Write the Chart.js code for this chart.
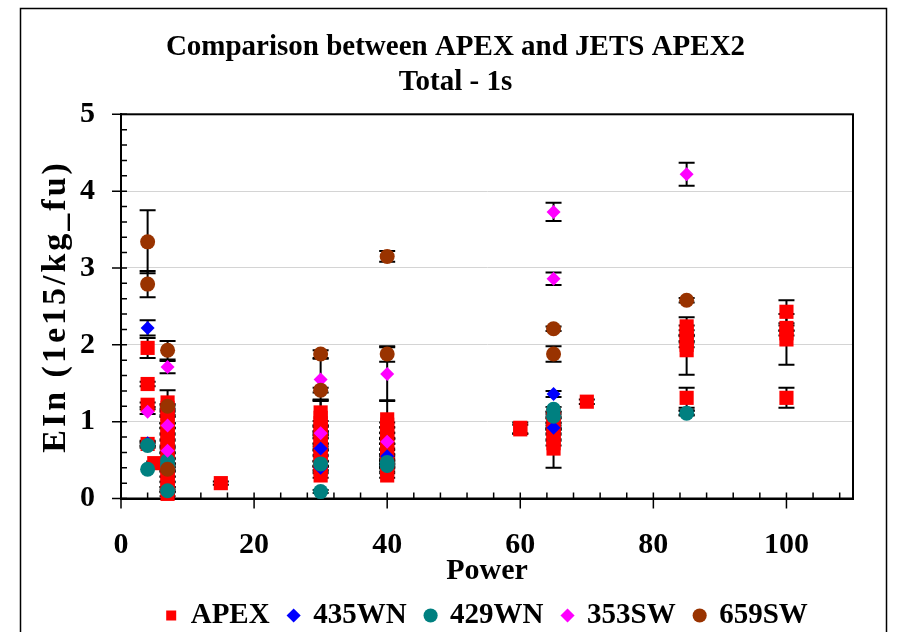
<!DOCTYPE html>
<html>
<head>
<meta charset="utf-8">
<title>Comparison between APEX and JETS APEX2</title>
<script src="https://cdn.jsdelivr.net/npm/chart.js@4.4.0/dist/chart.umd.min.js"></script>
<style>
  html, body { margin: 0; padding: 0; background: #fff; overflow: hidden; }
  #wrap { width: 907px; height: 640px; }
</style>
</head>
<body>
<div id="wrap"><canvas id="chart"></canvas></div>
<script>
// values (x = power, y = EIn, e = +/- error)
const apexPower = [4, 4, 4, 4, 5,
  7, 7, 7, 7, 7, 7, 7, 7, 7, 7, 7, 7, 7, 7, 7, 7, 7,
  15,
  30, 30, 30, 30, 30, 30, 30, 30, 30, 30, 30, 30,
  40, 40, 40, 40, 40, 40, 40, 40, 40, 40, 40,
  60, 60,
  65, 65, 65, 65, 65, 65, 65,
  70,
  85, 85, 85, 85, 85, 85,
  100, 100, 100, 100, 100];
const apexEIn = [1.96, 1.49, 1.22, 0.71, 0.46,
  1.25, 1.18, 1.10, 1.02, 0.95, 0.88, 0.80, 0.72, 0.64, 0.56, 0.48, 0.40, 0.32, 0.25, 0.18, 0.12, 0.06,
  0.20,
  1.12, 1.05, 0.98, 0.90, 0.82, 0.75, 0.68, 0.60, 0.52, 0.45, 0.38, 0.30,
  1.03, 0.96, 0.89, 0.82, 0.75, 0.68, 0.60, 0.52, 0.45, 0.38, 0.30,
  0.92, 0.90,
  1.10, 1.02, 0.95, 0.88, 0.80, 0.72, 0.65,
  1.26,
  2.24, 2.16, 2.08, 2.00, 1.93, 1.31,
  2.43, 2.22, 2.15, 2.07, 1.31];
const apexErr = [0.13, 0.03, 0.03, 0.03, 0.02,
  0.16, 0.03, 0.03, 0.04, 0.03, 0.03, 0.03, 0.03, 0.03, 0.03, 0.03, 0.03, 0.03, 0.03, 0.03, 0.03, 0.03,
  0.02,
  0.17, 0.22, 0.03, 0.03, 0.03, 0.03, 0.03, 0.03, 0.03, 0.03, 0.03, 0.03,
  0.25, 0.03, 0.03, 0.03, 0.03, 0.03, 0.03, 0.03, 0.03, 0.03, 0.03,
  0.07, 0.06,
  0.03, 0.03, 0.03, 0.03, 0.03, 0.03, 0.25,
  0.03,
  0.12, 0.03, 0.03, 0.03, 0.32, 0.13,
  0.15, 0.03, 0.03, 0.33, 0.13];

const wn435Power = [4, 4, 30, 30, 40, 40, 65, 65, 85];
const wn435EIn = [2.22, 0.72, 0.65, 0.40, 0.55, 0.42, 1.36, 0.92, 1.12];
const wn435Err = [0.10, 0.03, 0.03, 0.03, 0.03, 0.03, 0.04, 0.03, 0.03];

const wn429Power = [4, 4, 7, 7, 7, 30, 30, 40, 40, 65, 65, 85];
const wn429EIn = [0.69, 0.38, 0.49, 0.43, 0.10, 0.45, 0.09, 0.47, 0.43, 1.16, 1.07, 1.11];
const wn429Err = [0.03, 0, 0.03, 0.03, 0.02, 0.03, 0.02, 0.03, 0.03, 0.03, 0.03, 0.03];

const sw353Power = [4, 7, 7, 7, 30, 30, 40, 40, 65, 65, 85];
const sw353EIn = [1.13, 1.71, 0.95, 0.62, 1.55, 0.85, 1.62, 0.74, 3.73, 2.86, 4.22];
const sw353Err = [0.03, 0.08, 0.03, 0.03, 0.27, 0.03, 0.35, 0.03, 0.12, 0.08, 0.15];

const sw659Power = [4, 4, 7, 7, 7, 30, 30, 40, 40, 65, 65, 85];
const sw659EIn = [3.34, 2.79, 1.93, 1.20, 0.38, 1.88, 1.41, 3.15, 1.88, 2.21, 1.88, 2.58];
const sw659Err = [0.41, 0.17, 0.12, 0.03, 0.03, 0.05, 0.03, 0.07, 0.10, 0.03, 0.10, 0.03];

const titleLines = ['Comparison between APEX and JETS APEX2', 'Total - 1s'];
const xTitle = 'Power';
const yTitle = 'EIn (1e15/kg_fu)';

const pts = (xs, ys, es) => xs.map((x, i) => ({ x: x, y: ys[i], e: es[i] }));

const fontFamily = "'Liberation Serif', 'Times New Roman', serif";
Chart.defaults.font.family = fontFamily;
Chart.defaults.font.weight = 'bold';
Chart.defaults.color = '#000';

// outer frame, plot box and the tick marks (minor ticks inside, major ticks crossing)
const framePlugin = {
  id: 'frame',
  beforeDraw(chart) {
    const ctx = chart.ctx;
    ctx.save();
    ctx.fillStyle = '#fff';
    ctx.fillRect(0, 0, chart.width, chart.height);
    ctx.strokeStyle = '#000';
    ctx.lineWidth = 1.5;
    ctx.strokeRect(20.5, 8.5, 866, chart.height);
    ctx.restore();
  },
  beforeDatasetsDraw(chart) {
    const { ctx, chartArea: a, scales: { x, y } } = chart;
    ctx.save();
    ctx.strokeStyle = '#000';
    ctx.lineWidth = 2;
    ctx.strokeRect(a.left, a.top, a.right - a.left, a.bottom - a.top);
    ctx.lineWidth = 1.5;
    ctx.beginPath();
    for (let i = 0; i <= 27; i++) {
      const px = x.getPixelForValue(i * 4);
      const major = (i * 4) % 20 === 0;
      ctx.moveTo(px, a.bottom - 6);
      ctx.lineTo(px, a.bottom + (major ? 10 : 0));
    }
    for (let i = 0; i <= 25; i++) {
      const py = y.getPixelForValue(i / 5);
      const major = i % 5 === 0;
      ctx.moveTo(a.left + 6, py);
      ctx.lineTo(a.left - (major ? 9 : 0), py);
    }
    ctx.stroke();

    // y axis title, drawn here because the original is letter-spaced
    ctx.fillStyle = '#000';
    ctx.font = 'bold 34px ' + fontFamily;
    ctx.letterSpacing = '3px';
    ctx.textAlign = 'center';
    ctx.textBaseline = 'middle';
    ctx.translate(56, (a.top + a.bottom) / 2);
    ctx.rotate(-Math.PI / 2);
    ctx.fillText(yTitle, 0, 0);
    ctx.restore();
  }
};

// vertical error bars with caps, drawn under the markers
const errorBarPlugin = {
  id: 'errorBars',
  beforeDatasetsDraw(chart) {
    const { ctx, scales: { x, y } } = chart;
    ctx.save();
    ctx.strokeStyle = '#000';
    ctx.lineWidth = 2;
    chart.data.datasets.forEach(ds => {
      ds.data.forEach(p => {
        if (!p.e) return;
        const px = x.getPixelForValue(p.x);
        const top = y.getPixelForValue(p.y + p.e);
        const bot = y.getPixelForValue(p.y - p.e);
        ctx.beginPath();
        ctx.moveTo(px, top);
        ctx.lineTo(px, bot);
        ctx.moveTo(px - 8, top);
        ctx.lineTo(px + 8, top);
        ctx.moveTo(px - 8, bot);
        ctx.lineTo(px + 8, bot);
        ctx.stroke();
      });
    });
    ctx.restore();
  }
};

function series(label, data, style, radius, color, order) {
  return {
    label: label,
    data: data,
    pointStyle: style,
    pointRadius: radius,
    backgroundColor: color,
    borderColor: color,
    pointBorderWidth: 0,
    showLine: false,
    clip: false,
    order: order
  };
}

new Chart(document.getElementById('chart'), {
  type: 'scatter',
  data: {
    datasets: [
      series('APEX', pts(apexPower, apexEIn, apexErr), 'rect', 10, '#ff0000', 5),
      series('435WN', pts(wn435Power, wn435EIn, wn435Err), 'rectRot', 7, '#0000ff', 4),
      series('429WN', pts(wn429Power, wn429EIn, wn429Err), 'circle', 7.5, '#008080', 3),
      series('353SW', pts(sw353Power, sw353EIn, sw353Err), 'rectRot', 7, '#ff00ff', 2),
      series('659SW', pts(sw659Power, sw659EIn, sw659Err), 'circle', 7.5, '#993300', 1)
    ]
  },
  options: {
    responsive: true,
    maintainAspectRatio: false,
    animation: false,
    events: [],
    layout: { padding: { left: 22, right: 18, top: 10, bottom: 0 } },
    plugins: {
      title: {
        display: true,
        text: titleLines,
        color: '#000',
        font: { size: 29, weight: 'bold', lineHeight: 1.2 },
        padding: { top: 20, bottom: 14.7 }
      },
      legend: {
        position: 'bottom',
        fullSize: false,
        labels: {
          usePointStyle: true,
          boxWidth: 10,
          boxHeight: 10,
          padding: 19,
          color: '#000',
          font: { size: 29, weight: 'bold' },
          sort: (a, b) => a.datasetIndex - b.datasetIndex
        }
      },
      tooltip: { enabled: false }
    },
    scales: {
      x: {
        type: 'linear',
        min: 0,
        max: 110,
        afterFit: s => { s.height = 83.5; },
        grid: { display: false, drawTicks: false },
        border: { color: '#000', width: 2 },
        ticks: { stepSize: 20, includeBounds: false, padding: 29, autoSkip: false, font: { size: 30 } },
        title: { display: true, text: xTitle, font: { size: 30, lineHeight: 0.7 }, padding: 0 }
      },
      y: {
        min: 0,
        max: 5,
        afterFit: s => { s.width = 99; },
        grid: { color: '#d4d4d4', drawTicks: false },
        border: { color: '#000', width: 2 },
        ticks: { stepSize: 1, padding: 26, font: { size: 30 } },
        title: { display: false, text: yTitle }
      },
      // empty right-hand strip so the title centres on the frame like the original
      yPad: {
        position: 'right',
        display: true,
        afterFit: s => { s.width = 36; },
        grid: { display: false, drawTicks: false },
        border: { display: false },
        ticks: { display: false }
      }
    }
  },
  plugins: [framePlugin, errorBarPlugin]
});
</script>
</body>
</html>
